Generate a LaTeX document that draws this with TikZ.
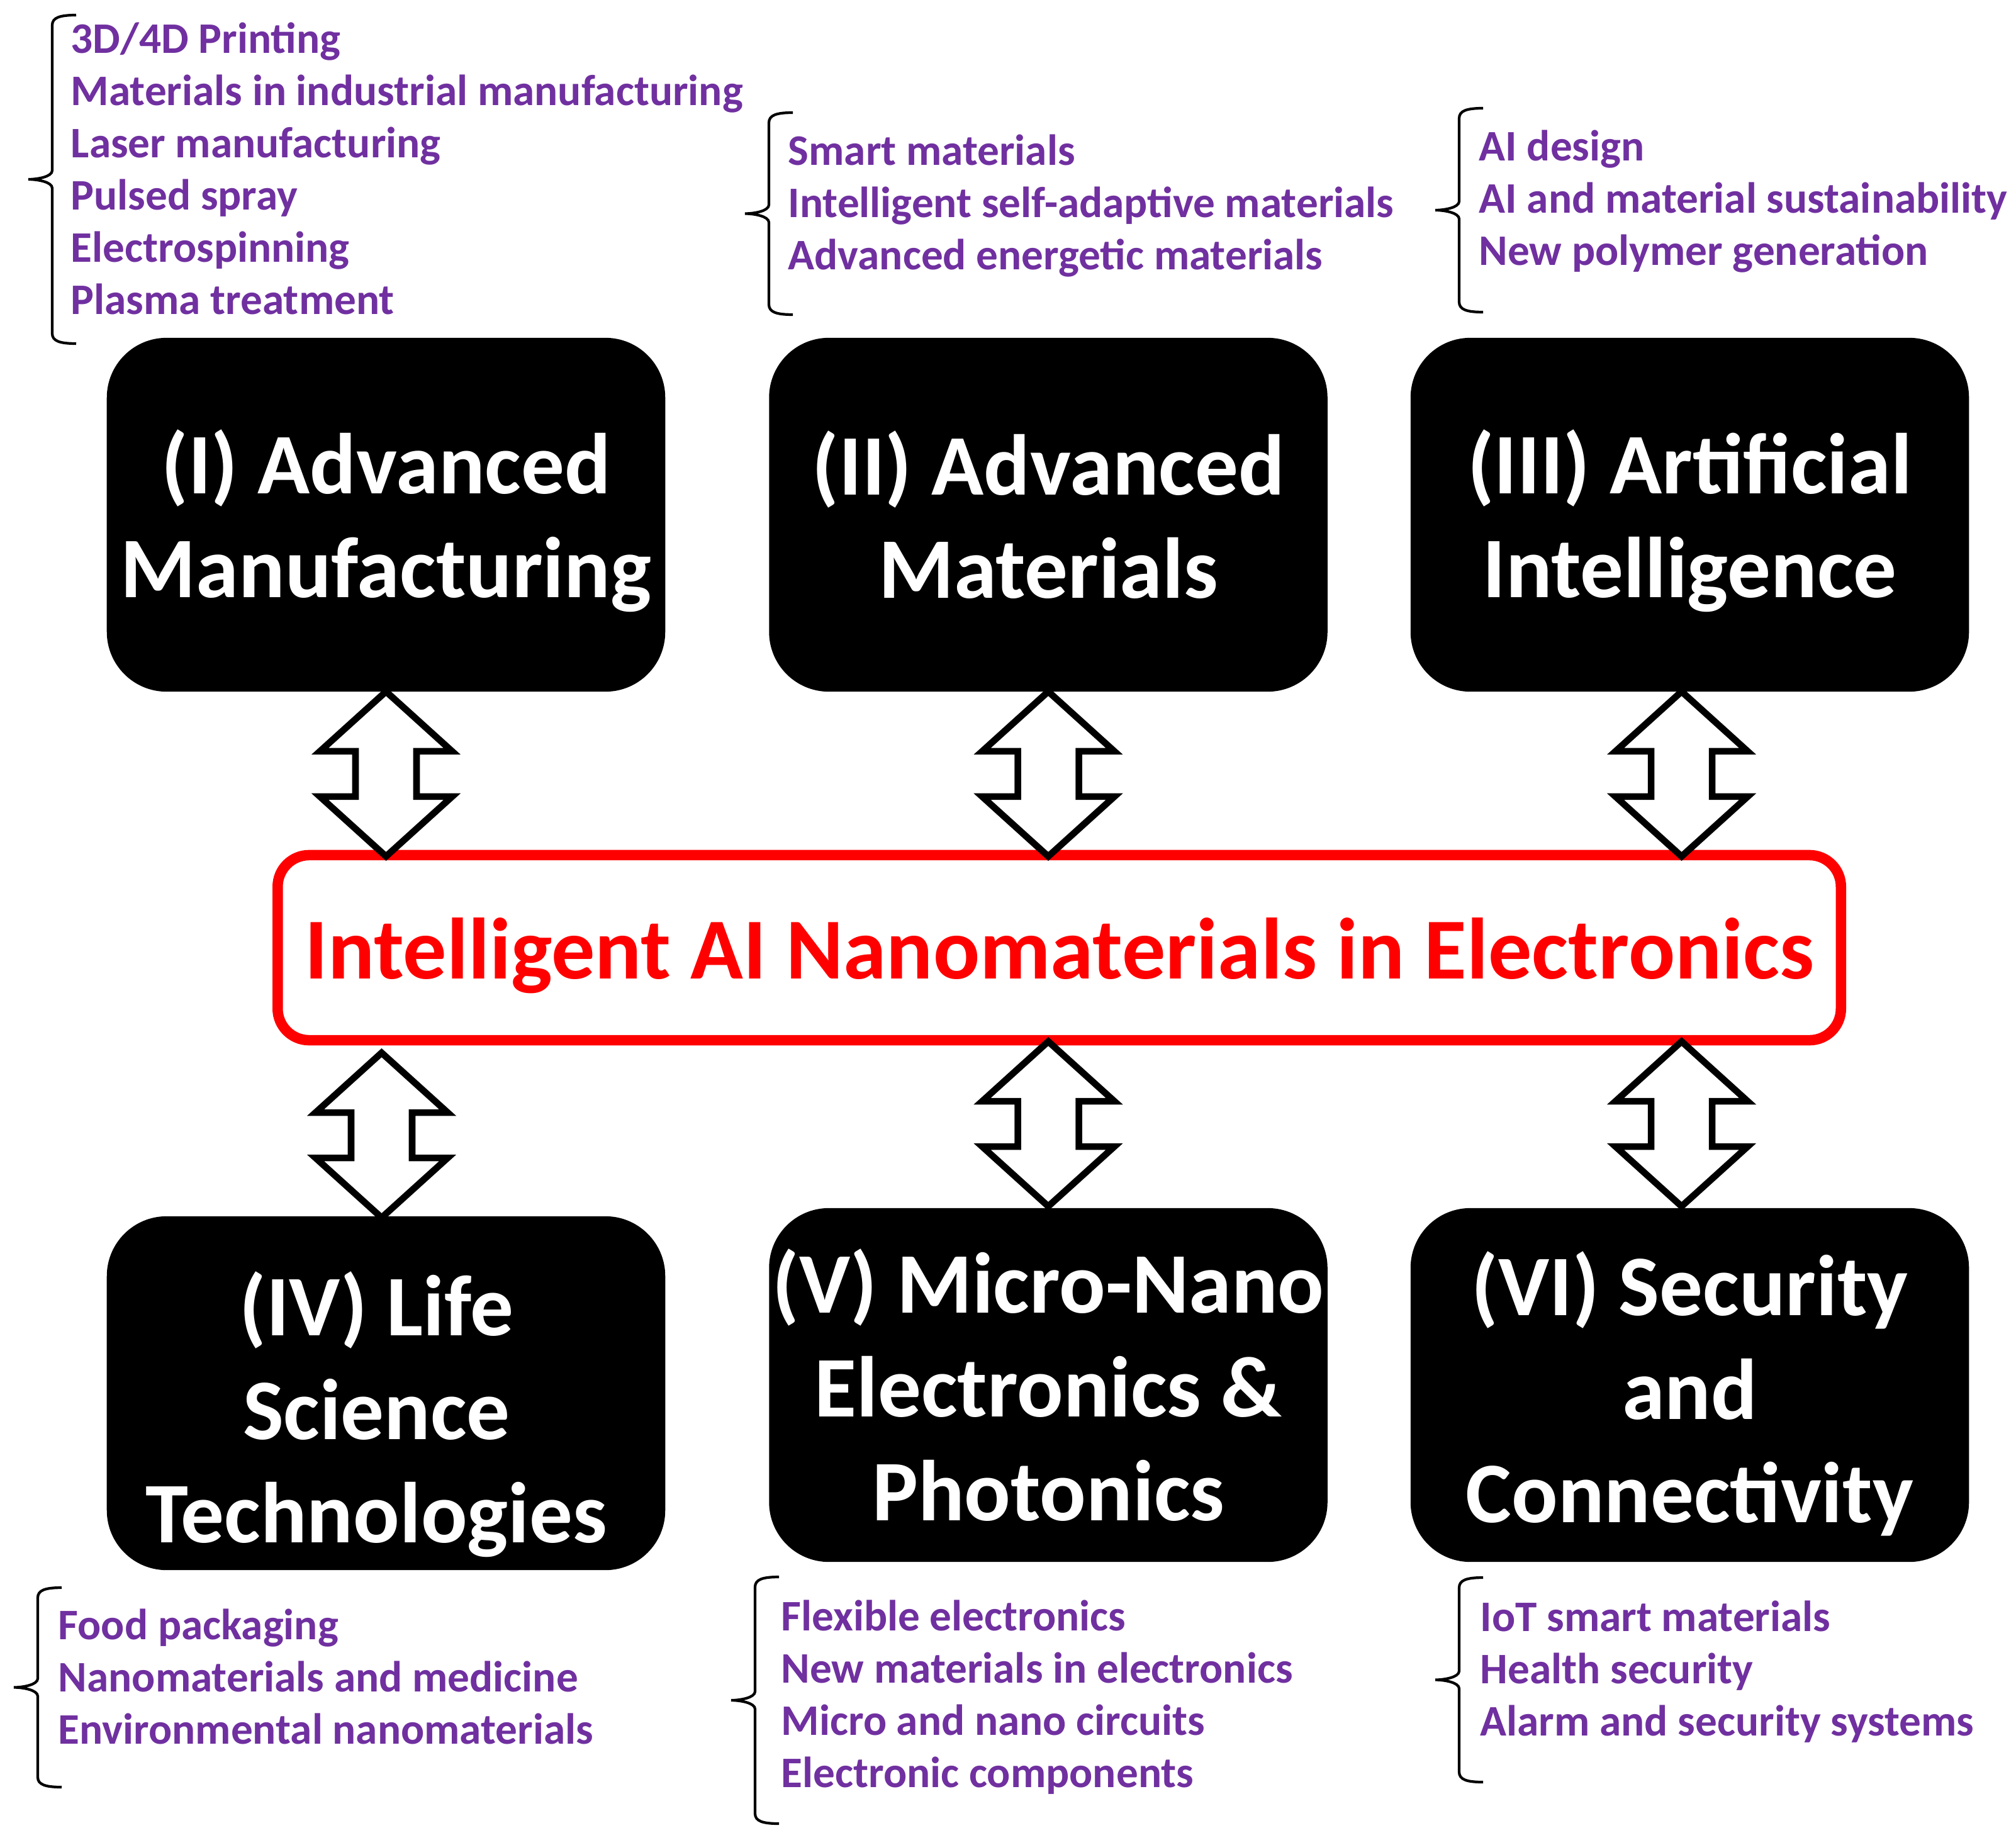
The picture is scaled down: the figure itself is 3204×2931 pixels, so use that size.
\documentclass[tikz,border=0pt]{standalone}
\usepackage{fontspec}
\setmainfont{Carlito}
\usetikzlibrary{positioning}
\definecolor{listpurple}{HTML}{7030A0}
% brace left of a list: line x, top, bottom
\newcommand{\listbrace}[3]{%
	\draw[curly] ({#1+38},#2) .. controls ({#1+12},#2) and (#1,{#2+4}) .. (#1,{#2+16})
		-- (#1,{(#2+#3)/2-14}) .. controls (#1,{(#2+#3)/2-4}) and ({#1-24},{(#2+#3)/2}) .. ({#1-38},{(#2+#3)/2})
		.. controls ({#1-24},{(#2+#3)/2}) and (#1,{(#2+#3)/2+4}) .. (#1,{(#2+#3)/2+14})
		-- (#1,{#3-16}) .. controls (#1,{#3-4}) and ({#1+12},#3) .. ({#1+38},#3);}
\tikzset{pics/twoway/.style={code={
	\draw[line width=3pt,fill=white] (0,-131) -- (105,-36) -- (48.5,-36) -- (48.5,36) -- (105,36) -- (0,131)
		-- (-105,36) -- (-48.5,36) -- (-48.5,-36) -- (-105,-36) -- cycle;}}}

\begin{document}
\begin{tikzpicture}[x=0.01cm,y=-0.01cm,
	bigbox/.style={fill=black,rounded corners=0.95cm,minimum width=8.87cm,minimum height=5.62cm,inner sep=0pt},
	boxtext/.style={text=white,align=center,inner sep=0pt,font=\fontsize{39}{46.8}\selectfont\bfseries},
	mainbox/.style={draw=red,line width=4.7pt,rounded corners=0.5cm,minimum width=24.83cm,minimum height=2.94cm,inner sep=0pt,
		text=red,text height=1.1cm,text depth=0.12cm,font=\fontsize{39.3}{46.8}\selectfont\bfseries},
	itemlist/.style={text=listpurple,align=left,anchor=north west,inner sep=0pt,font=\fontsize{19.7}{23.6}\selectfont\bfseries},
	curly/.style={line width=1.2pt}]
	\useasboundingbox (0,0) rectangle (3204,2931);

	% centre
	\node[mainbox] (main) at (1683.5,1506) {Intelligent AI Nanomaterials in Electronics};

	% six fields
	\node[bigbox] (b1) at (613.5,818) {};
	\node[bigbox] (b2) at (1666,818) {};
	\node[bigbox] (b3) at (2685.5,818) {};
	\node[bigbox] (b4) at (613.5,2214) {};
	\node[bigbox] (b5) at (1666,2201) {};
	\node[bigbox] (b6) at (2685.5,2201) {};
	\node[boxtext] (t1) at ([yshift=-0.1cm]b1.center) {(I) Advanced\\Manufacturing};
	\node[boxtext] (t2) at (b2.center) {(II) Advanced\\Materials};
	\node[boxtext] (t3) at ([yshift=-0.1cm]b3.center) {(III) Artificial\\Intelligence};
	\node[boxtext] (t4) at ([xshift=-0.15cm,yshift=-0.34cm]b4.center) {(IV) Life\\Science\\Technologies};
	\node[boxtext] (t5) at (b5.center) {(V) Micro-Nano\\Electronics \&\\Photonics};
	\node[boxtext] (t6) at ([yshift=-0.14cm]b6.center) {(VI) Security\\and\\Connectivity};

	% two-way arrows
	\pic (a1) at ([yshift=-1.3cm]b1.south) {twoway};
	\pic (a2) at ([yshift=-1.3cm]b2.south) {twoway};
	\pic (a3) at ([xshift=-0.13cm,yshift=-1.3cm]b3.south) {twoway};
	\pic (a4) at ([xshift=-0.07cm,yshift=1.28cm]b4.north) {twoway};
	\pic (a5) at ([yshift=1.33cm]b5.north) {twoway};
	\pic (a6) at ([xshift=-0.13cm,yshift=1.33cm]b6.north) {twoway};

	% topics
	\node[itemlist] (l1) at (112,35) {3D/4D Printing\\Materials in industrial manufacturing\\Laser manufacturing\\Pulsed spray\\Electrospinning\\Plasma treatment};
	\node[itemlist] (l2) at (1252,213) {Smart materials\\Intelligent self-adaptive materials\\Advanced energetic materials};
	\node[itemlist] (l3) at (2350,206) {AI design\\AI and material sustainability\\New polymer generation};
	\node[itemlist] (l4) at (92,2556) {Food packaging\\Nanomaterials and medicine\\Environmental nanomaterials};
	\node[itemlist] (l5) at (1241,2542) {Flexible electronics\\New materials in electronics\\Micro and nano circuits\\Electronic components};
	\node[itemlist] (l6) at (2352,2543) {IoT smart materials\\Health security\\Alarm and security systems};

	\listbrace{83}{24}{546}
	\listbrace{1222}{179}{500}
	\listbrace{2319}{172}{496}
	\listbrace{60}{2523}{2840}
	\listbrace{1200}{2506}{2898}
	\listbrace{2319}{2507}{2832}
\end{tikzpicture}
\end{document}
